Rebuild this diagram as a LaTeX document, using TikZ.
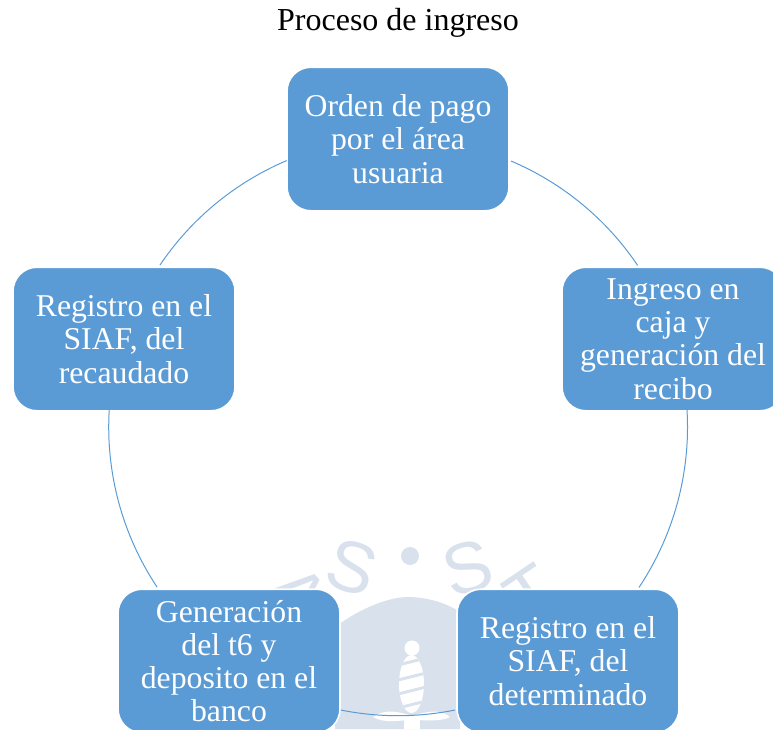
\documentclass[tikz,border=0pt]{standalone}
\usepackage{fontspec}
\setmainfont{Liberation Serif}
\newfontfamily\wmfont{Liberation Sans}
\definecolor{boxblue}{HTML}{5B9BD5}
\definecolor{wm}{HTML}{D9E2EC}
\tikzset{
  stage/.style={draw=white,line width=1.2pt,fill=boxblue,rounded corners=18pt,minimum width=166.5pt,minimum height=107.7pt,
    text=white,align=flush center,text width=150pt,inner sep=0pt,font=\fontsize{23.8pt}{24.9pt}\selectfont},
  link/.style={draw=boxblue,line width=0.75pt},
  wmletter/.style={text=wm,font=\wmfont\fontsize{54pt}{54pt}\selectfont,inner sep=0pt},
  title/.style={inner sep=0pt,font=\fontsize{24pt}{24.9pt}\selectfont}
}
\begin{document}
\begin{tikzpicture}[x=0.75pt,y=-0.75pt]
\useasboundingbox (0,0) rectangle (773,729);
\clip (0,0) rectangle (773,729);
% watermark
\node[wmletter,rotate=-48] (wa) at (299,594) {A};
\node[wmletter,rotate=-18] (ws1) at (352,567) {S};
\fill[wm] (410,556) circle (9);
\node[wmletter,rotate=16] (ws2) at (468,568) {S};
\node[wmletter,rotate=34] (wt) at (531,594) {T};
\fill[wm] (335,627) .. controls (365,605) and (392,597) .. (408,597) .. controls (425,597) and (445,602) .. (460,612) -- (460,729) -- (335,729) -- cycle;
\fill[white] (412,648) circle (7.5);
\begin{scope}
  \clip (411.5,684) ellipse [x radius=12.5,y radius=29];
  \fill[white] (395,650) rectangle (430,716);
  \foreach \yy in {660,675,689,703}{\fill[wm] (396,\yy+4) -- (428,\yy-4) -- (428,\yy-1) -- (396,\yy+7) -- cycle;}
\end{scope}
\fill[white] (373,717) .. controls (385,708) and (400,712) .. (412,716) .. controls (425,712) and (440,708) .. (450,717) .. controls (440,722) and (425,720) .. (412,720) .. controls (400,720) and (385,724) .. (373,717) -- cycle;
\fill[white] (404,720) rectangle (420,729);
% title
\node[title] (ttl) at (398,23) {Proceso de ingreso};
% stages
\node[stage] (n1) at (398,139) {Orden de pago\\por el área\\usuaria};
\node[stage] (n2) at (673,339) {Ingreso en\\caja y\\generación del\\recibo};
\node[stage] (n3) at (568,661) {Registro en el\\SIAF, del\\determinado};
\node[stage] (n4) at (229,661) {Generación\\del t6 y\\deposito en el\\banco};
\node[stage] (n5) at (124,339) {Registro en el\\SIAF, del\\recaudado};
% ring
\coordinate (c) at (398,427);
\coordinate (a1) at (511,161);
\coordinate (a2) at (687,410);
\coordinate (a3) at (455,710);
\coordinate (a4) at (157,587);
\coordinate (a5) at (160,265);
\draw[link] (a1) arc[start angle=-67,end angle=-34,radius=289];
\draw[link] (a2) arc[start angle=-3.4,end angle=33.7,radius=289];
\draw[link] (a3) arc[start angle=78.6,end angle=101.4,radius=289];
\draw[link] (a4) arc[start angle=146.4,end angle=183.4,radius=289];
\draw[link] (a5) arc[start angle=214,end angle=247,radius=289];
\end{tikzpicture}
\end{document}
